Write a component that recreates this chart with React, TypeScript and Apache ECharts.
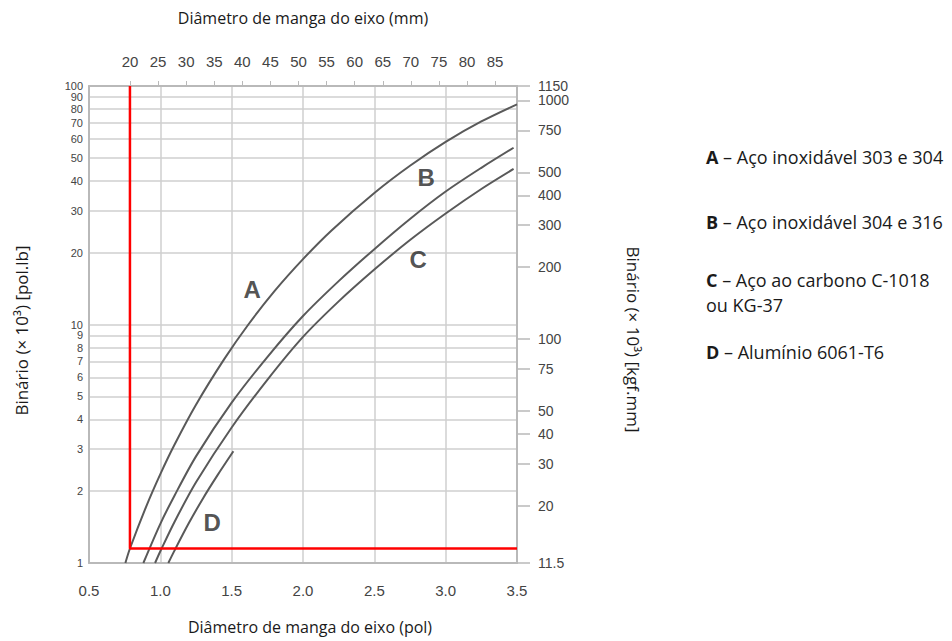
import { useEffect, useRef } from "react";
import * as echarts from "echarts";

// Shaft sleeve diameter (in) vs. torque (× 10³ lb·in), log torque scale.
const MM_PER_INCH = 25.4;
const DIAM_MIN_POL = 0.5;
const DIAM_MAX_POL = 3.5;

const DIAM_MM_TICKS = [20, 25, 30, 35, 40, 45, 50, 55, 60, 65, 70, 75, 80, 85];
const TORQUE_POL_LB_TICKS = [1, 2, 3, 4, 5, 6, 7, 8, 9, 10, 20, 30, 40, 50, 60, 70, 80, 90, 100];
const TORQUE_KGF_MM_TICKS = [11.5, 20, 30, 40, 50, 75, 100, 200, 300, 400, 500, 750, 1000, 1150];

// [diameter (pol), torque (× 10³ pol.lb)]
const CURVE_A = [
  [0.755, 1.0], [0.787, 1.15], [0.9, 1.72], [1.0, 2.36], [1.1, 3.14], [1.25, 4.61],
  [1.45, 7.19], [1.617, 10.0], [1.8, 13.8], [2.0, 18.8], [2.2, 24.8], [2.5, 35.6],
  [2.75, 46.3], [3.0, 58.3], [3.25, 71], [3.5, 83.8],
];
const CURVE_B = [
  [0.881, 1.0], [1.0, 1.46], [1.1, 1.92], [1.25, 2.8], [1.5, 4.7], [1.75, 7.3],
  [2.0, 10.85], [2.25, 15.2], [2.5, 20.7], [2.75, 27.7], [3.0, 36.1], [3.25, 45.4],
  [3.476, 55.1],
];
const CURVE_C = [
  [0.963, 1.0], [1.0, 1.12], [1.1, 1.49], [1.25, 2.18], [1.5, 3.7], [1.75, 5.86],
  [2.0, 8.87], [2.25, 12.5], [2.5, 17.0], [2.75, 22.6], [3.0, 29.2], [3.25, 37.0],
  [3.476, 44.9],
];
const CURVE_D = [
  [1.056, 1.0], [1.1, 1.13], [1.2, 1.47], [1.3, 1.87], [1.4, 2.33], [1.512, 2.94],
];

// Reading for a 20 mm sleeve on curve A
const SELECTION_PATH = [[0.787, 100], [0.787, 1.15], [3.5, 1.15]];

const CURVE_LETTERS = [
  { name: "A", value: [1.643, 14.0] },
  { name: "B", value: [2.863, 41.2] },
  { name: "C", value: [2.807, 18.7] },
  { name: "D", value: [1.363, 1.475] },
];

const MATERIALS = [
  { key: "A", lines: ["Aço inoxidável 303 e 304"] },
  { key: "B", lines: ["Aço inoxidável 304 e 316"] },
  { key: "C", lines: ["Aço ao carbono C-1018", "ou KG-37"] },
  { key: "D", lines: ["Alumínio 6061-T6"] },
];
const MATERIAL_ROWS_Y = [157, 222, 292, 352];

const AXIS_GREY = "#b9b9b9";
const GRID_GREY = "#cfcfcf";
const CURVE_GREY = "#595959";
const NUM_FONT = "'Liberation Sans', Arial, sans-serif";
const TEXT_FONT = "'Open Sans', 'Noto Sans', sans-serif";

export default function App() {
  const ref = useRef<HTMLDivElement>(null);

  useEffect(() => {
    if (!ref.current) return;
    const chart = echarts.init(ref.current, null, { renderer: "svg" });

    const curve = (name: string, data: number[][]) => ({
      name,
      type: "line",
      data,
      smooth: 0.3,
      showSymbol: false,
      lineStyle: { color: CURVE_GREY, width: 2 },
      z: 3,
    });

    const legendText = MATERIALS.map((m, i) => ({
      type: "text",
      left: 706,
      top: MATERIAL_ROWS_Y[i] - (m.lines.length * 25) / 2,
      style: {
        text: `{k|${m.key}} – ${m.lines.join("\n")}`,
        lineHeight: 25,
        font: `18px ${TEXT_FONT}`,
        fill: "#1a1a1a",
        rich: {
          k: { fontWeight: "bold", fontSize: 18, fontFamily: TEXT_FONT, fill: "#1a1a1a" },
        },
      },
    }));

    chart.setOption({
      animation: false,
      backgroundColor: "#ffffff",
      grid: { left: 89, right: 435, top: 86, bottom: 78, containLabel: false },
      xAxis: [
        {
          type: "value",
          position: "bottom",
          min: DIAM_MIN_POL,
          max: DIAM_MAX_POL,
          interval: 0.5,
          name: "Diâmetro de manga do eixo (pol)",
          nameLocation: "middle",
          nameGap: 56,
          nameTextStyle: { fontFamily: TEXT_FONT, fontSize: 16, color: "#1a1a1a", padding: [0, 0, 0, 14] },
          axisLine: { lineStyle: { color: AXIS_GREY, width: 2 } },
          axisTick: { show: false },
          axisLabel: {
            margin: 20,
            fontFamily: NUM_FONT,
            fontSize: 15,
            color: "#444",
            formatter: (v: number) => v.toFixed(1),
          },
          splitLine: { show: true, lineStyle: { color: GRID_GREY, width: 1.5 } },
        },
        {
          type: "value",
          position: "top",
          min: DIAM_MIN_POL * MM_PER_INCH,
          max: DIAM_MAX_POL * MM_PER_INCH,
          name: "Diâmetro de manga do eixo (mm)",
          nameLocation: "middle",
          nameGap: 60,
          nameTextStyle: { fontFamily: TEXT_FONT, fontSize: 16, color: "#1a1a1a" },
          axisLine: { lineStyle: { color: AXIS_GREY, width: 2 } },
          axisTick: {
            show: true,
            customValues: DIAM_MM_TICKS,
            length: 5,
            lineStyle: { color: AXIS_GREY, width: 1 },
          },
          axisLabel: {
            customValues: DIAM_MM_TICKS,
            margin: 17,
            fontFamily: NUM_FONT,
            fontSize: 15,
            color: "#444",
          },
          splitLine: { show: false },
        },
      ],
      yAxis: [
        {
          type: "log",
          logBase: 10,
          position: "left",
          min: 1,
          max: 100,
          name: "Binário (× 10³) [pol.lb]",
          nameLocation: "middle",
          nameGap: 59,
          nameTextStyle: { fontFamily: TEXT_FONT, fontSize: 17, color: "#1a1a1a", padding: [0, 12, 0, 0] },
          axisLine: { show: true, lineStyle: { color: AXIS_GREY, width: 2 } },
          axisTick: { show: false, customValues: TORQUE_POL_LB_TICKS },
          axisLabel: {
            customValues: TORQUE_POL_LB_TICKS,
            showMinLabel: true,
            showMaxLabel: true,
            margin: 6,
            fontFamily: NUM_FONT,
            fontSize: 11,
            lineHeight: 10,
            color: "#444",
            formatter: (v: number) => String(Math.round(v)),
          },
          splitLine: { show: true, lineStyle: { color: GRID_GREY, width: 1.5 } },
        },
        {
          type: "log",
          logBase: 10,
          position: "right",
          min: 11.5,
          max: 1150,
          name: "Binário (× 10³) [kgf.mm]",
          nameLocation: "middle",
          nameRotate: -90,
          nameGap: 108,
          nameTextStyle: { fontFamily: TEXT_FONT, fontSize: 17, color: "#1a1a1a", padding: [0, 0, 0, 30] },
          axisLine: { show: true, lineStyle: { color: AXIS_GREY, width: 2 } },
          axisTick: {
            show: true,
            customValues: TORQUE_KGF_MM_TICKS,
            length: 13,
            lineStyle: { color: AXIS_GREY, width: 1.5 },
          },
          axisLabel: {
            customValues: TORQUE_KGF_MM_TICKS,
            showMinLabel: true,
            showMaxLabel: true,
            margin: 21,
            fontFamily: NUM_FONT,
            fontSize: 14,
            lineHeight: 13,
            color: "#444",
            formatter: (v: number) => String(Math.round(v * 10) / 10),
          },
          splitLine: { show: false },
        },
      ],
      series: [
        curve("A", CURVE_A),
        curve("B", CURVE_B),
        curve("C", CURVE_C),
        curve("D", CURVE_D),
        {
          name: "20 mm",
          type: "line",
          data: SELECTION_PATH,
          showSymbol: false,
          lineStyle: { color: "#ff0000", width: 2.5 },
          z: 4,
        },
        {
          name: "letters",
          type: "scatter",
          data: CURVE_LETTERS,
          symbolSize: 1,
          itemStyle: { color: "rgba(0,0,0,0)" },
          label: {
            show: true,
            position: "inside",
            formatter: (p: any) => p.name,
            fontFamily: NUM_FONT,
            fontWeight: "bold",
            fontSize: 24,
            color: "#262626",
          },
          z: 5,
        },
      ],
      graphic: legendText,
    });

    return () => chart.dispose();
  }, []);

  return (
    <div
      ref={ref}
      style={{ position: "fixed", left: 0, top: 0, width: 952, height: 641 }}
    />
  );
}
